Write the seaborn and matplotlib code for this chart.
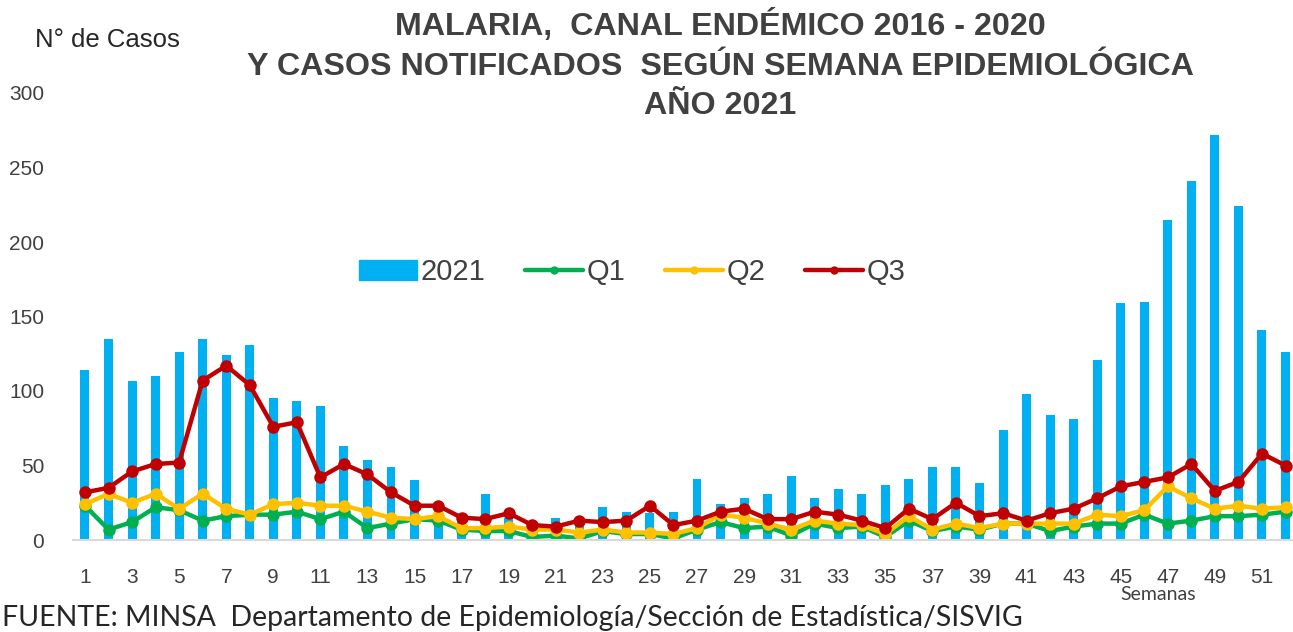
import numpy as np
import pandas as pd
import matplotlib
matplotlib.use("Agg")
import matplotlib.pyplot as plt
import seaborn as sns
from matplotlib.lines import Line2D
from matplotlib.patches import Patch

sns.set_theme(style="white")
plt.rcParams['font.family'] = ['Liberation Sans', 'DejaVu Sans']

weeks = list(range(1, 53))
casos_2021 = [114, 135, 107, 110, 126, 135, 124, 131, 95, 93,
              90, 63, 54, 49, 40, 22, 16, 31, 15, 13,
              15, 10, 22, 19, 18, 19, 41, 24, 28, 31,
              43, 28, 34, 31, 37, 41, 49, 49, 38, 74,
              98, 84, 81, 121, 159, 160, 215, 241, 272, 224,
              141, 126]
q1 = [23, 7, 12, 22, 20, 13, 16, 17, 17, 19,
      14, 19, 8, 11, 14, 13, 7, 6, 6, 2,
      3, 1, 6, 4, 4, 1, 7, 12, 8, 9,
      3, 11, 8, 9, 2, 13, 6, 9, 7, 11,
      11, 6, 9, 11, 11, 17, 11, 13, 16, 16,
      17, 19]
q2 = [24, 31, 25, 31, 21, 31, 21, 17, 24, 25,
      23, 23, 19, 15, 14, 16, 8, 8, 9, 7,
      7, 5, 7, 5, 5, 4, 8, 17, 15, 11,
      7, 13, 11, 10, 4, 16, 7, 11, 8, 11,
      11, 11, 11, 17, 16, 20, 36, 28, 21, 23,
      21, 22]
q3 = [32, 35, 46, 51, 52, 107, 117, 104, 76, 79,
      42, 51, 44, 32, 23, 23, 15, 14, 18, 10,
      9, 13, 12, 13, 23, 10, 13, 19, 21, 14,
      14, 19, 17, 13, 8, 21, 14, 25, 16, 18,
      13, 18, 21, 28, 36, 39, 42, 51, 33, 39,
      58, 50]
xtick_weeks = list(range(1, 53, 2))
xtick_labels = [str(w) for w in xtick_weeks]

df = pd.DataFrame({"semana": weeks, "c2021": casos_2021, "Q1": q1, "Q2": q2, "Q3": q3})

c_bar = "#00B0F0"
c_q1 = "#00B050"
c_q2 = "#FFC000"
c_q3 = "#C00000"

fig = plt.figure(figsize=(12.93, 6.32), dpi=100)
x0_px, x1_px = 73.2, 1293
ax = fig.add_axes([x0_px / 1293, (632 - 540) / 632, (x1_px - x0_px) / 1293, (540 - 93) / 632])

sns.barplot(data=df, x="semana", y="c2021", native_scale=True, color=c_bar,
            width=0.38, saturation=1, ax=ax, linewidth=0)
for col, c in (("Q1", c_q1), ("Q2", c_q2), ("Q3", c_q3)):
    sns.lineplot(data=df, x="semana", y=col, color=c, marker="o", markersize=9,
                 linewidth=3.2, markeredgewidth=0, ax=ax)

spacing = 23.54
ax.set_xlim(0.5, 0.5 + (x1_px - x0_px) / spacing)
ax.set_ylim(0, 300)
ax.set_yticks(range(0, 301, 50))
ax.set_xticks(xtick_weeks, labels=xtick_labels)
ax.set_xlabel("")
ax.set_ylabel("")
for s in ("top", "right", "left"):
    ax.spines[s].set_visible(False)
ax.spines["bottom"].set_color("#D9D9D9")
ax.spines["bottom"].set_linewidth(1.5)
ax.grid(False)
ax.tick_params(axis="both", length=0, labelsize=15, labelcolor="#404040")
ax.tick_params(axis="x", pad=20)
ax.tick_params(axis="y", pad=21)

handles = [Patch(color=c_bar, label="2021"),
           Line2D([], [], color=c_q1, lw=3.2, marker="o", markersize=5, label="Q1"),
           Line2D([], [], color=c_q2, lw=3.2, marker="o", markersize=5, label="Q2"),
           Line2D([], [], color=c_q3, lw=3.2, marker="o", markersize=5, label="Q3")]
leg = ax.legend(handles=handles, loc="center", bbox_to_anchor=(632 / 1293, 1 - 272 / 632),
                bbox_transform=fig.transFigure, ncol=4, frameon=False, fontsize=21,
                handlelength=2.0, handletextpad=0.12, columnspacing=1.35)
for t in leg.get_texts():
    t.set_color("#404040")

title_lines = ["MALARIA,  CANAL ENDÉMICO 2016 - 2020",
               "Y CASOS NOTIFICADOS  SEGÚN SEMANA EPIDEMIOLÓGICA",
               "AÑO 2021"]
for i, (line, yc) in enumerate(zip(title_lines, (25, 67, 106))):
    fig.text(720 / 1293, 1 - yc / 632, line, ha="center", va="center",
             fontsize=23.2, fontweight="bold", color="#404040")

fig.text(35 / 1293, 1 - 40 / 632, "N° de Casos", ha="left", va="center",
         fontsize=18.5, color="#262626")
fig.text(1158 / 1293, 1 - 594 / 632, "Semanas", ha="center", va="center",
         fontsize=14, color="#404040", family=["Lato", "DejaVu Sans"])
fig.text(2 / 1293, 1 - 618 / 632,
         "FUENTE: MINSA  Departamento de Epidemiología/Sección de Estadística/SISVIG",
         ha="left", va="center", fontsize=20.5, color="#262626",
         family=["Lato", "DejaVu Sans"])

fig.savefig("out.png", dpi=100)
